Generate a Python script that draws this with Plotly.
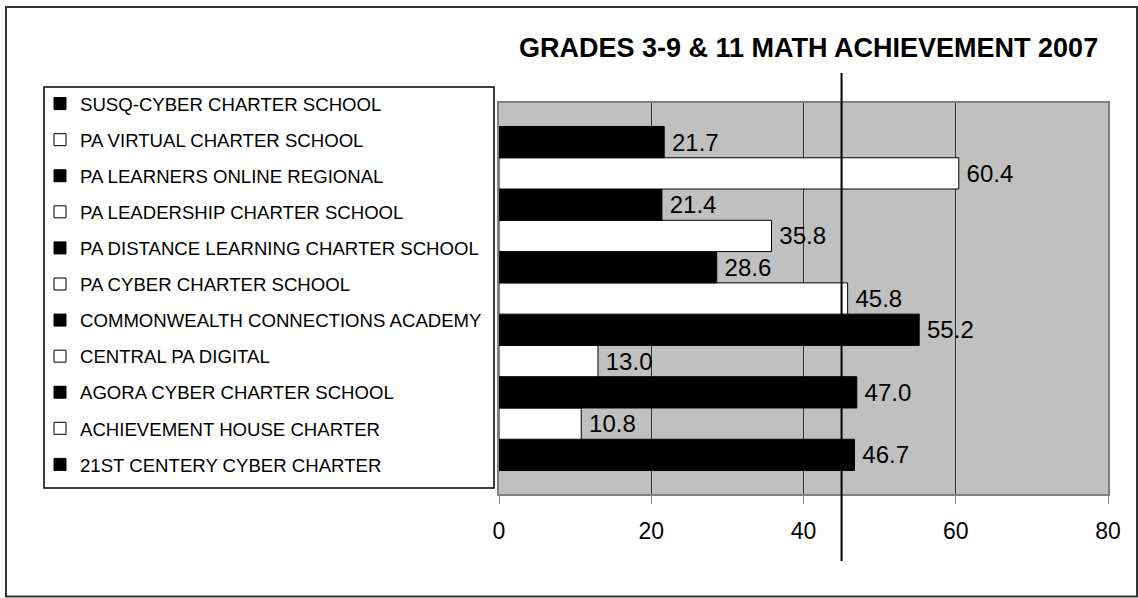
import plotly.graph_objects as go

# Data (bottom to top, as drawn)
schools = [
    "21ST CENTERY CYBER CHARTER",
    "ACHIEVEMENT HOUSE CHARTER",
    "AGORA CYBER CHARTER SCHOOL",
    "CENTRAL PA DIGITAL",
    "COMMONWEALTH CONNECTIONS ACADEMY",
    "PA CYBER CHARTER SCHOOL",
    "PA DISTANCE LEARNING CHARTER SCHOOL",
    "PA LEADERSHIP CHARTER SCHOOL",
    "PA LEARNERS ONLINE REGIONAL",
    "PA VIRTUAL CHARTER SCHOOL",
    "SUSQ-CYBER CHARTER SCHOOL",
]
scores = [46.7, 10.8, 47.0, 13.0, 55.2, 45.8, 28.6, 35.8, 21.4, 60.4, 21.7]
fill_colors = ["#000000", "#FFFFFF"] * 6
reference_value = 45
x_ticks = [0, 20, 40, 60, 80]
title_text = "GRADES 3-9 & 11 MATH ACHIEVEMENT 2007"

FONT = "Arial, Liberation Sans, sans-serif"

W, H = 1138, 598
L, R, T, B = 499, 1108, 103, 494
pw, ph = R - L, B - T


def px(xp):
    return (xp - L) / pw


def py(yp):
    return (B - yp) / ph


fig = go.Figure()
n = len(schools)
for i, (name, val) in enumerate(zip(schools, scores)):
    fig.add_trace(go.Bar(
        x=[val], y=["2007"], orientation="h", name=name,
        legendgroup=name, legendrank=100 + (n - i),
        marker=dict(color=fill_colors[i], line=dict(color="#000000", width=1)),
        text=["\u2009" + f"{val:.1f}"], textposition="outside",
        textfont=dict(family=FONT, size=24, color="#000000"),
        constraintext="none", cliponaxis=False,
    ))

fig.update_layout(
    width=W, height=H,
    margin=dict(l=L, r=W - R, t=T, b=H - B),
    paper_bgcolor="#FFFFFF", plot_bgcolor="#C0C0C0",
    barmode="group", bargap=0.12, bargroupgap=0,
    showlegend=True,
    legend=dict(
        traceorder="grouped", tracegroupgap=8.9,
        x=px(40), y=py(85), xanchor="left", yanchor="top",
        font=dict(family=FONT, size=18.6, color="#000000"),
        bgcolor="rgba(0,0,0,0)", borderwidth=0, maxheight=470,
    ),
    font=dict(family=FONT, color="#000000"),
)

fig.update_xaxes(
    range=[0, 80], tickvals=x_ticks, ticktext=[str(t) for t in x_ticks],
    showgrid=True, gridcolor="#333333", gridwidth=1,
    showline=True, linecolor="#808080", linewidth=2, mirror=True,
    ticks="outside", ticklen=8, tickcolor="#808080", tickwidth=1,
    ticklabelstandoff=7,
    tickfont=dict(family=FONT, size=23, color="#000000"),
    zeroline=False, fixedrange=True,
)
fig.update_yaxes(
    showticklabels=False, showgrid=False, ticks="",
    showline=True, linecolor="#808080", linewidth=2, mirror=True,
    fixedrange=True,
)

# reference line
fig.add_shape(type="line", xref="x", yref="paper",
              x0=reference_value, x1=reference_value, y0=py(561), y1=py(73),
              line=dict(color="#000000", width=2))

# legend box
fig.add_shape(type="rect", xref="paper", yref="paper",
              x0=px(44), x1=px(494), y0=py(488), y1=py(87),
              line=dict(color="#000000", width=1.5))

# outer border
fig.add_shape(type="rect", xref="paper", yref="paper",
              x0=px(6), x1=px(1137), y0=py(596.5), y1=py(7),
              line=dict(color="#333333", width=2))

fig.add_annotation(
    text=f"<b>{title_text}</b>", xref="paper", yref="paper",
    x=px(808), y=py(48), xanchor="center", yanchor="middle",
    showarrow=False, font=dict(family=FONT, size=27, color="#000000"),
)

fig.write_html("out.html", config={"displayModeBar": False},
               post_script="document.body.style.margin='0';")
